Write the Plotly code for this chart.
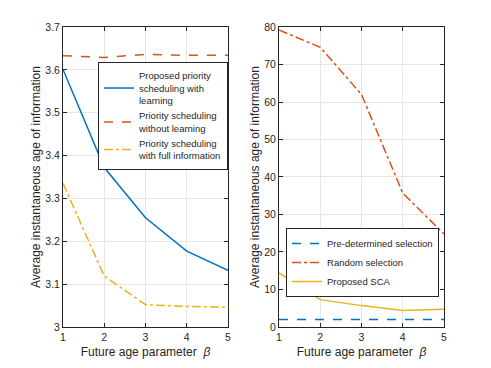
import plotly.graph_objects as go

beta = [1, 2, 3, 4, 5]

# left panel
learn = [3.601, 3.372, 3.255, 3.177, 3.132]
no_learn = [3.633, 3.629, 3.636, 3.634, 3.634]
full_info = [3.335, 3.119, 3.052, 3.048, 3.046]

# right panel
predetermined = [2.0, 2.0, 2.0, 2.0, 2.0]
random_sel = [79.2, 74.6, 62.0, 35.7, 24.8]
proposed_sca = [14.4, 7.3, 5.7, 4.4, 4.7]

blue, red, yellow = '#0072BD', '#D95319', '#EDB120'
font = 'Liberation Sans, Arial, sans-serif'
ink = '#262626'

fig = go.Figure()
fig.add_trace(go.Scatter(x=beta, y=learn, mode='lines', line=dict(color=blue, width=1.5),
                         name='Proposed priority<br>scheduling with<br>learning', xaxis='x', yaxis='y', legend='legend'))
fig.add_trace(go.Scatter(x=beta, y=no_learn, mode='lines', line=dict(color=red, width=1.5, dash='dash'),
                         name='Priority scheduling<br>without learning', xaxis='x', yaxis='y', legend='legend'))
fig.add_trace(go.Scatter(x=beta, y=full_info, mode='lines', line=dict(color=yellow, width=1.5, dash='dashdot'),
                         name='Priority scheduling<br>with full information', xaxis='x', yaxis='y', legend='legend'))

fig.add_trace(go.Scatter(x=beta, y=predetermined, mode='lines', line=dict(color=blue, width=1.5, dash='dash'),
                         name='Pre-determined selection', xaxis='x2', yaxis='y2', legend='legend2'))
fig.add_trace(go.Scatter(x=beta, y=random_sel, mode='lines', line=dict(color=red, width=1.5, dash='dashdot'),
                         name='Random selection', xaxis='x2', yaxis='y2', legend='legend2'))
fig.add_trace(go.Scatter(x=beta, y=proposed_sca, mode='lines', line=dict(color=yellow, width=1.5),
                         name='Proposed SCA', xaxis='x2', yaxis='y2', legend='legend2'))

ax = dict(showline=True, linecolor=ink, linewidth=1, mirror='ticks', ticks='inside', ticklen=4,
          tickcolor=ink, showgrid=True, gridcolor='#e6e6e6', zeroline=False, automargin=False,
          tickfont=dict(size=10.5, color=ink, family=font))
xtitle = dict(text='Future age parameter  <i>β</i>', font=dict(size=12, color=ink, family=font), standoff=6)
ytitle = dict(text='Average instantaneous age of information', font=dict(size=12, color=ink, family=font), standoff=2)
legfont = dict(size=9.5, color=ink, family=font)

# page body has an 8px margin, so the figure is 483x360 inside the 491x368 window
fig.update_layout(
    template='none',
    width=483, height=360, margin=dict(l=0, r=0, t=0, b=0),
    plot_bgcolor='white', paper_bgcolor='white', showlegend=True,
    xaxis=dict(ax, domain=[0.1139, 0.4555], range=[1, 5], tickvals=beta, title=xtitle, anchor='y'),
    yaxis=dict(ax, domain=[0.1139, 0.9472], range=[3, 3.7], dtick=0.1, title=ytitle, anchor='x'),
    xaxis2=dict(ax, domain=[0.5611, 0.9027], range=[1, 5], tickvals=beta, title=xtitle, anchor='y2'),
    yaxis2=dict(ax, domain=[0.1139, 0.9472], range=[0, 80], dtick=10, title=ytitle, anchor='x2'),
    legend=dict(x=0.4555, y=0.85, xanchor='right', yanchor='top', bgcolor='white',
                bordercolor=ink, borderwidth=1, font=legfont, tracegroupgap=0, itemwidth=30),
    legend2=dict(x=0.5756, y=0.3889, xanchor='left', yanchor='top', bgcolor='white',
                 bordercolor=ink, borderwidth=1, font=legfont, tracegroupgap=0, itemwidth=30),
)

fig.write_html("out.html")
